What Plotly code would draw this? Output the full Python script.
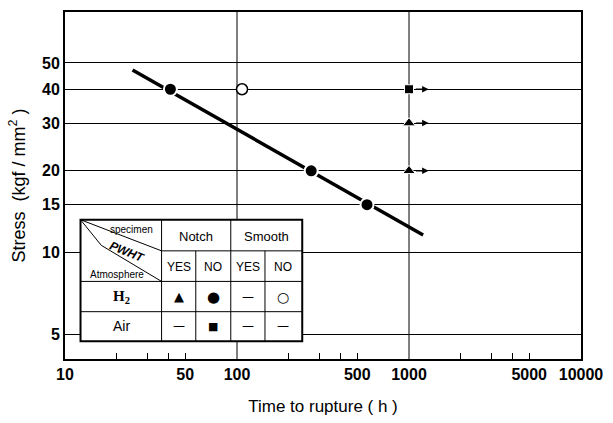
import numpy as np
import plotly.graph_objects as go

# ---- data ----
trend_time = [24.7, 1208]
trend_stress = [47.1, 11.6]

notch_no_h2_time = [41, 270, 570]
notch_no_h2_stress = [40, 20, 15]

smooth_no_h2_time = [107]
smooth_no_h2_stress = [40]

notch_yes_h2_time = [1000, 1000]
notch_yes_h2_stress = [30, 20]

notch_no_air_time = [1000]
notch_no_air_stress = [40]

runout_stress = [40, 30, 20]
runout_time = 1000

x_tickvals = [10, 50, 100, 500, 1000, 5000, 10000]
x_ticktext = ["10", "50", "100", "500", "1000", "5000", "10000"]
x_minor = [20, 30, 40, 50, 200, 300, 400, 500, 2000, 3000, 4000, 5000]
x_grid = [100, 1000]
y_tickvals = [5, 10, 15, 20, 30, 40, 50]

# ---- layout geometry (pixels) ----
W, H = 613, 423
L, R, T, B = 65, 587, 10, 362


def px(xp):
    return (xp - L) / (R - L)


def py(yp):
    return (B - yp) / (B - T)


fig = go.Figure()

# white gaps in gridlines behind run-out arrows
for s in runout_stress:
    fig.add_shape(type="line", xref="x", yref="y", x0=runout_time, x1=1370,
                  y0=s, y1=s, line=dict(color="white", width=4), layer="below")

fig.add_trace(go.Scatter(x=trend_time, y=trend_stress, mode="lines",
                         line=dict(color="black", width=3.5), showlegend=False))
fig.add_trace(go.Scatter(x=notch_no_h2_time, y=notch_no_h2_stress, mode="markers",
                         marker=dict(symbol="circle", size=13, color="black",
                                     line=dict(color="white", width=2)),
                         showlegend=False))
fig.add_trace(go.Scatter(x=smooth_no_h2_time, y=smooth_no_h2_stress, mode="markers",
                         marker=dict(symbol="circle", size=11, color="white",
                                     line=dict(color="black", width=1.5)),
                         showlegend=False))
fig.add_trace(go.Scatter(x=notch_yes_h2_time, y=notch_yes_h2_stress, mode="markers",
                         marker=dict(symbol="triangle-up", size=11, color="black",
                                     line=dict(color="white", width=1)),
                         showlegend=False))
fig.add_trace(go.Scatter(x=notch_no_air_time, y=notch_no_air_stress, mode="markers",
                         marker=dict(symbol="square", size=9, color="black",
                                     line=dict(color="white", width=1)),
                         showlegend=False))

# run-out arrows
for s in runout_stress:
    fig.add_annotation(x=np.log10(1300), y=np.log10(s), ax=np.log10(1075), ay=np.log10(s),
                       xref="x", yref="y", axref="x", ayref="y", text="",
                       showarrow=True, arrowhead=2, arrowsize=1, arrowwidth=1.3,
                       arrowcolor="black")

# vertical grid lines
for g in x_grid:
    fig.add_shape(type="line", xref="x", yref="paper", x0=g, x1=g, y0=0, y1=1,
                  line=dict(color="black", width=1), layer="below")

# ---- legend table ----
tl, tr = px(80.7), px(305)
c1, c2, c3, c4 = px(162.7), px(197.3), px(232.7), px(267.3)
r0, r1, r2, r3, r4 = py(220.7), py(252.3), py(283.3), py(314), py(344)

fig.add_shape(type="rect", xref="paper", yref="paper", x0=tl, x1=tr, y0=r4, y1=r0,
              fillcolor="white", line=dict(color="black", width=2), layer="above")
tline = dict(color="black", width=1)
for (x0, y0, x1, y1) in [
    (tl, r2, tr, r2), (tl, r3, tr, r3), (c1, r1, tr, r1),
    (c1, r0, c1, r4), (c2, r1, c2, r4), (c3, r0, c3, r4), (c4, r1, c4, r4),
    (tl, r0, c1, r1), (tl, r0, px(101.7), py(246.7)), (px(101.7), py(246.7), c1, r2),
]:
    fig.add_shape(type="line", xref="paper", yref="paper", x0=x0, y0=y0, x1=x1, y1=y1,
                  line=tline, layer="above")


def cell(text, xp, yp, size=12, family="Liberation Sans, Arial, sans-serif", angle=0, **kw):
    fig.add_annotation(x=px(xp), y=py(yp), xref="paper", yref="paper", text=text,
                       showarrow=False, textangle=angle, xanchor="center", yanchor="middle",
                       font=dict(size=size, family=family, color="black"), **kw)


cell("specimen", 132, 230.5, size=10)
cell("<i><b>PWHT</b></i>", 128, 253, size=12, angle=22)
cell("Atmosphere", 117.5, 276, size=10)
cell("Notch", 197.7, 237.5, size=13)
cell("Smooth", 268.8, 237.5, size=13)
cols = [180, 215, 250, 286]
for xc, t in zip(cols, ["YES", "NO", "YES", "NO"]):
    cell(t, xc, 268.5, size=12)
cell("<b>H<sub>2</sub></b>", 121.7, 299, size=15, family="Liberation Serif, Times New Roman, serif")
cell("Air", 121.7, 329, size=14)
for xc, t, sz in zip(cols, ["▲", "●", "—", "○"], [13, 15, 12, 14]):
    cell(t, xc, 299, size=sz, family="DejaVu Sans")
for xc, t, sz in zip(cols, ["—", "■", "—", "—"], [12, 11, 12, 12]):
    cell(t, xc, 329, size=sz, family="DejaVu Sans")

fig.update_layout(
    width=W, height=H,
    margin=dict(l=L, r=W - R, t=T, b=H - B, pad=0),
    paper_bgcolor="white", plot_bgcolor="white",
    font=dict(family="Liberation Sans, Arial, sans-serif", color="black"),
    showlegend=False,
)
fig.update_xaxes(
    type="log", range=[1, 4],
    tickmode="array", tickvals=x_tickvals, ticktext=x_ticktext,
    ticks="", showgrid=False,
    tickfont=dict(size=16, family="Liberation Sans, Arial, sans-serif", weight="bold"),
    showline=True, mirror=True, linecolor="black", linewidth=2,
    minor=dict(tickmode="array", tickvals=x_minor, ticks="inside", ticklen=6,
               tickcolor="black", tickwidth=1, showgrid=False),
    title=dict(text="Time to rupture ( h )", font=dict(size=17), standoff=18),
    zeroline=False,
)
fig.update_yaxes(
    type="log", range=[0.607, 1.887],
    tickmode="array", tickvals=y_tickvals, ticktext=[str(v) for v in y_tickvals],
    ticks="", showgrid=True, gridcolor="black", gridwidth=1,
    tickfont=dict(size=16, family="Liberation Sans, Arial, sans-serif", weight="bold"),
    showline=True, mirror=True, linecolor="black", linewidth=2,
    title=dict(text="Stress  (kgf / mm<sup>2</sup> )", font=dict(size=18), standoff=12),
    zeroline=False,
)

fig.write_html("out.html", config={"displayModeBar": False},
               post_script="document.body.style.margin='0';document.body.style.padding='0';")
